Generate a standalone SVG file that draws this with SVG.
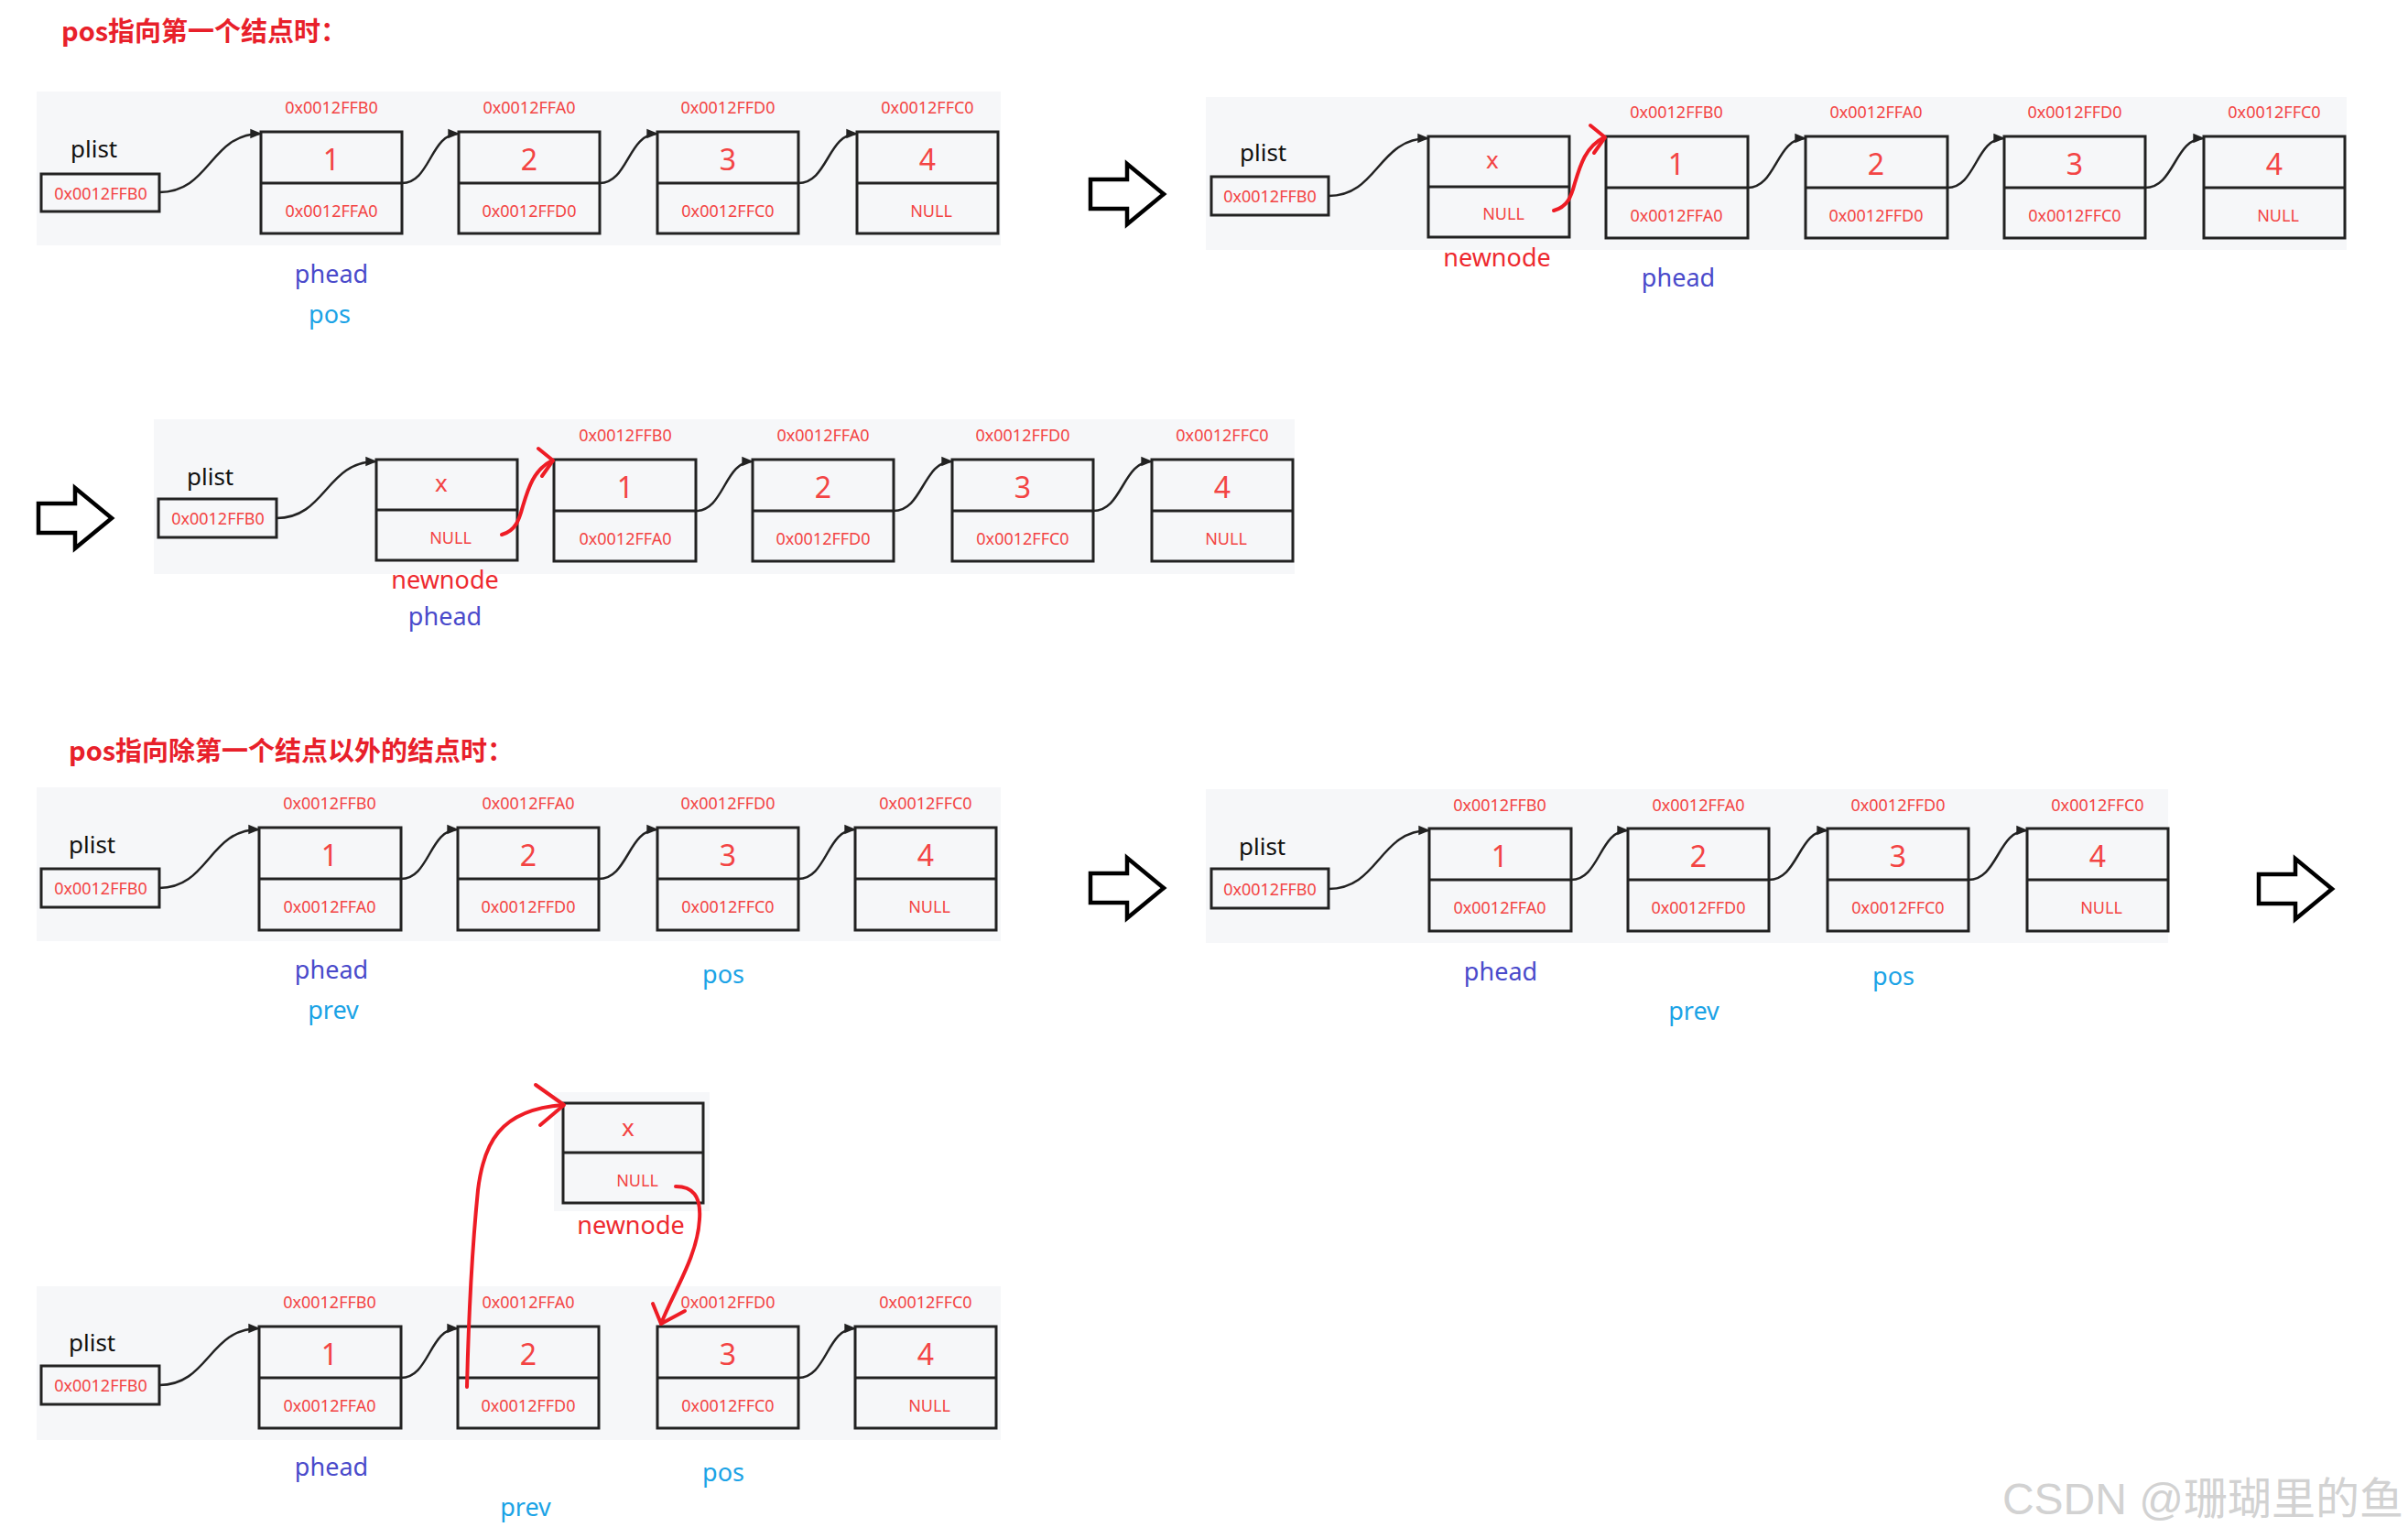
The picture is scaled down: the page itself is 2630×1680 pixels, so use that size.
<svg xmlns="http://www.w3.org/2000/svg" width="2630" height="1680" viewBox="0 0 2630 1680">
<defs>
<style>
.bg{fill:#f6f7f9}
.box{fill:none;stroke:#222;stroke-width:3}
.t{font-family:"Noto Sans","Noto Sans CJK SC",sans-serif;text-anchor:middle;dominant-baseline:central}
.addr{font-size:18px;fill:#f34444}
.val{font-size:32px;fill:#f34444}
.plist{font-size:26px;fill:#111;text-anchor:start}
.phead{font-size:27px;fill:#4a4acb}
.pos{font-size:27px;fill:#1ba3e6}
.nn{font-size:27px;fill:#ee2a2f}
.title{font-family:"Noto Sans CJK SC","Noto Sans",sans-serif;font-weight:bold;font-size:29px;fill:#e8202a}
.conn{fill:none;stroke:#222;stroke-width:2.5;marker-end:url(#ah)}
.red{fill:none;stroke:#ee1c25;stroke-width:4;stroke-linecap:round;stroke-linejoin:round}
.harrow{fill:#fff;stroke:#000;stroke-width:4.5;stroke-linejoin:miter}
.wm{font-family:"Liberation Sans","Noto Sans CJK SC",sans-serif;font-size:48px;fill:#d2d2d2;text-anchor:end}
</style>
<marker id="ah" viewBox="0 0 10 10" refX="9" refY="5" markerWidth="13" markerHeight="13" markerUnits="userSpaceOnUse" orient="auto"><path d="M0,1 L10,5 L0,9 z" fill="#222"/></marker>
<polygon id="bigarrow" class="harrow" points="0,17 40,17 40,0 80,33 40,66 40,49 0,49"/>
</defs>
<rect width="2630" height="1680" fill="#fff"/>

<!-- titles -->
<text id="title1" class="title" x="67" y="45">pos指向第一个结点时：</text>
<text id="title2" class="title" x="75" y="831">pos指向除第一个结点以外的结点时：</text>

<!-- backgrounds -->
<rect class="bg" x="40" y="100" width="1053" height="168"/>
<rect class="bg" x="1317" y="106" width="1246" height="167"/>
<rect class="bg" x="168" y="458" width="1246" height="169"/>
<rect class="bg" x="40" y="860" width="1053" height="168"/>
<rect class="bg" x="1317" y="862" width="1051" height="168"/>
<rect class="bg" x="605" y="1193" width="170" height="130"/>
<rect class="bg" x="40" y="1405" width="1053" height="168"/>

<!-- transition arrows -->
<g id="arrow1"><use href="#bigarrow" x="1191" y="179"/></g>
<g id="arrow2"><use href="#bigarrow" x="42" y="533"/></g>
<g id="arrow3"><use href="#bigarrow" x="1191" y="937"/></g>
<g id="arrow4"><use href="#bigarrow" x="2467" y="938"/></g>

<!-- ===== Panel A ===== -->
<g id="A-plist"><text class="t plist" x="77" y="162">plist</text><rect class="box" x="45" y="190" width="129" height="41"/><text class="t addr" x="110" y="211">0x0012FFB0</text></g>
<g id="A-n1"><text class="t addr" x="362" y="117">0x0012FFB0</text><rect class="box" x="285" y="144" width="154" height="111"/><line class="box" x1="285" y1="200" x2="439" y2="200"/><text class="t val" x="362" y="173">1</text><text class="t addr" x="362" y="230">0x0012FFA0</text></g>
<g id="A-n2"><text class="t addr" x="578" y="117">0x0012FFA0</text><rect class="box" x="501" y="144" width="154" height="111"/><line class="box" x1="501" y1="200" x2="655" y2="200"/><text class="t val" x="578" y="173">2</text><text class="t addr" x="578" y="230">0x0012FFD0</text></g>
<g id="A-n3"><text class="t addr" x="795" y="117">0x0012FFD0</text><rect class="box" x="718" y="144" width="154" height="111"/><line class="box" x1="718" y1="200" x2="872" y2="200"/><text class="t val" x="795" y="173">3</text><text class="t addr" x="795" y="230">0x0012FFC0</text></g>
<g id="A-n4"><text class="t addr" x="1013" y="117">0x0012FFC0</text><rect class="box" x="936" y="144" width="154" height="111"/><line class="box" x1="936" y1="200" x2="1090" y2="200"/><text class="t val" x="1013" y="173">4</text><text class="t addr" x="1017" y="230">NULL</text></g>
<g id="A-labels"><text class="t phead" x="362" y="298">phead</text><text class="t pos" x="360" y="342">pos</text></g>

<!-- ===== Panel B ===== -->
<g id="B-plist"><text class="t plist" x="1354" y="166">plist</text><rect class="box" x="1323" y="193" width="128" height="42"/><text class="t addr" x="1387" y="214">0x0012FFB0</text></g>
<g id="B-new"><rect class="box" x="1560" y="149" width="154" height="110"/><line class="box" x1="1560" y1="204" x2="1714" y2="204"/><text class="t val" style="font-size:26px" x="1630" y="174">x</text><text class="t addr" x="1642" y="233">NULL</text><text class="t nn" x="1635" y="280">newnode</text></g>
<g id="B-n1"><text class="t addr" x="1831" y="122">0x0012FFB0</text><rect class="box" x="1754" y="149" width="155" height="111"/><line class="box" x1="1754" y1="205" x2="1909" y2="205"/><text class="t val" x="1831" y="178">1</text><text class="t addr" x="1831" y="235">0x0012FFA0</text></g>
<g id="B-n2"><text class="t addr" x="2049" y="122">0x0012FFA0</text><rect class="box" x="1972" y="149" width="155" height="111"/><line class="box" x1="1972" y1="205" x2="2127" y2="205"/><text class="t val" x="2049" y="178">2</text><text class="t addr" x="2049" y="235">0x0012FFD0</text></g>
<g id="B-n3"><text class="t addr" x="2266" y="122">0x0012FFD0</text><rect class="box" x="2189" y="149" width="154" height="111"/><line class="box" x1="2189" y1="205" x2="2343" y2="205"/><text class="t val" x="2266" y="178">3</text><text class="t addr" x="2266" y="235">0x0012FFC0</text></g>
<g id="B-n4"><text class="t addr" x="2484" y="122">0x0012FFC0</text><rect class="box" x="2407" y="149" width="154" height="111"/><line class="box" x1="2407" y1="205" x2="2561" y2="205"/><text class="t val" x="2484" y="178">4</text><text class="t addr" x="2488" y="235">NULL</text></g>
<g id="B-labels"><text class="t phead" x="1833" y="302">phead</text></g>

<!-- ===== Panel C ===== -->
<g id="C-plist"><text class="t plist" x="204" y="520">plist</text><rect class="box" x="173" y="545" width="129" height="42"/><text class="t addr" x="238" y="566">0x0012FFB0</text></g>
<g id="C-new"><rect class="box" x="411" y="502" width="154" height="110"/><line class="box" x1="411" y1="557" x2="565" y2="557"/><text class="t val" style="font-size:26px" x="482" y="527">x</text><text class="t addr" x="492" y="587">NULL</text><text class="t nn" x="486" y="632">newnode</text><text class="t phead" x="486" y="672">phead</text></g>
<g id="C-n1"><text class="t addr" x="683" y="475">0x0012FFB0</text><rect class="box" x="605" y="502" width="155" height="111"/><line class="box" x1="605" y1="558" x2="760" y2="558"/><text class="t val" x="683" y="531">1</text><text class="t addr" x="683" y="588">0x0012FFA0</text></g>
<g id="C-n2"><text class="t addr" x="899" y="475">0x0012FFA0</text><rect class="box" x="822" y="502" width="154" height="111"/><line class="box" x1="822" y1="558" x2="976" y2="558"/><text class="t val" x="899" y="531">2</text><text class="t addr" x="899" y="588">0x0012FFD0</text></g>
<g id="C-n3"><text class="t addr" x="1117" y="475">0x0012FFD0</text><rect class="box" x="1040" y="502" width="154" height="111"/><line class="box" x1="1040" y1="558" x2="1194" y2="558"/><text class="t val" x="1117" y="531">3</text><text class="t addr" x="1117" y="588">0x0012FFC0</text></g>
<g id="C-n4"><text class="t addr" x="1335" y="475">0x0012FFC0</text><rect class="box" x="1258" y="502" width="154" height="111"/><line class="box" x1="1258" y1="558" x2="1412" y2="558"/><text class="t val" x="1335" y="531">4</text><text class="t addr" x="1339" y="588">NULL</text></g>

<!-- ===== Panel D ===== -->
<g id="D-plist"><text class="t plist" x="75" y="922">plist</text><rect class="box" x="45" y="949" width="129" height="42"/><text class="t addr" x="110" y="970">0x0012FFB0</text></g>
<g id="D-n1"><text class="t addr" x="360" y="877">0x0012FFB0</text><rect class="box" x="283" y="904" width="155" height="112"/><line class="box" x1="283" y1="960" x2="438" y2="960"/><text class="t val" x="360" y="933">1</text><text class="t addr" x="360" y="990">0x0012FFA0</text></g>
<g id="D-n2"><text class="t addr" x="577" y="877">0x0012FFA0</text><rect class="box" x="500" y="904" width="154" height="112"/><line class="box" x1="500" y1="960" x2="654" y2="960"/><text class="t val" x="577" y="933">2</text><text class="t addr" x="577" y="990">0x0012FFD0</text></g>
<g id="D-n3"><text class="t addr" x="795" y="877">0x0012FFD0</text><rect class="box" x="718" y="904" width="154" height="112"/><line class="box" x1="718" y1="960" x2="872" y2="960"/><text class="t val" x="795" y="933">3</text><text class="t addr" x="795" y="990">0x0012FFC0</text></g>
<g id="D-n4"><text class="t addr" x="1011" y="877">0x0012FFC0</text><rect class="box" x="934" y="904" width="154" height="112"/><line class="box" x1="934" y1="960" x2="1088" y2="960"/><text class="t val" x="1011" y="933">4</text><text class="t addr" x="1015" y="990">NULL</text></g>
<g id="D-labels"><text class="t phead" x="362" y="1058">phead</text><text class="t pos" x="364" y="1102">prev</text><text class="t pos" x="790" y="1063">pos</text></g>

<!-- ===== Panel E ===== -->
<g id="E-plist"><text class="t plist" x="1353" y="924">plist</text><rect class="box" x="1323" y="949" width="128" height="43"/><text class="t addr" x="1387" y="971">0x0012FFB0</text></g>
<g id="E-n1"><text class="t addr" x="1638" y="879">0x0012FFB0</text><rect class="box" x="1561" y="905" width="155" height="112"/><line class="box" x1="1561" y1="961" x2="1716" y2="961"/><text class="t val" x="1638" y="934">1</text><text class="t addr" x="1638" y="991">0x0012FFA0</text></g>
<g id="E-n2"><text class="t addr" x="1855" y="879">0x0012FFA0</text><rect class="box" x="1778" y="905" width="154" height="112"/><line class="box" x1="1778" y1="961" x2="1932" y2="961"/><text class="t val" x="1855" y="934">2</text><text class="t addr" x="1855" y="991">0x0012FFD0</text></g>
<g id="E-n3"><text class="t addr" x="2073" y="879">0x0012FFD0</text><rect class="box" x="1996" y="905" width="154" height="112"/><line class="box" x1="1996" y1="961" x2="2150" y2="961"/><text class="t val" x="2073" y="934">3</text><text class="t addr" x="2073" y="991">0x0012FFC0</text></g>
<g id="E-n4"><text class="t addr" x="2291" y="879">0x0012FFC0</text><rect class="box" x="2214" y="905" width="154" height="112"/><line class="box" x1="2214" y1="961" x2="2368" y2="961"/><text class="t val" x="2291" y="934">4</text><text class="t addr" x="2295" y="991">NULL</text></g>
<g id="E-labels"><text class="t phead" x="1639" y="1060">phead</text><text class="t pos" x="1850" y="1103">prev</text><text class="t pos" x="2068" y="1065">pos</text></g>

<!-- ===== Panel F ===== -->
<g id="F-new"><rect class="box" x="615" y="1205" width="153" height="109"/><line class="box" x1="615" y1="1259" x2="768" y2="1259"/><text class="t val" style="font-size:26px" x="686" y="1231">x</text><text class="t addr" x="696" y="1289">NULL</text><text class="t nn" x="689" y="1337">newnode</text></g>
<g id="F-plist"><text class="t plist" x="75" y="1466">plist</text><rect class="box" x="45" y="1492" width="129" height="42"/><text class="t addr" x="110" y="1513">0x0012FFB0</text></g>
<g id="F-n1"><text class="t addr" x="360" y="1422">0x0012FFB0</text><rect class="box" x="283" y="1449" width="155" height="111"/><line class="box" x1="283" y1="1505" x2="438" y2="1505"/><text class="t val" x="360" y="1478">1</text><text class="t addr" x="360" y="1535">0x0012FFA0</text></g>
<g id="F-n2"><text class="t addr" x="577" y="1422">0x0012FFA0</text><rect class="box" x="500" y="1449" width="154" height="111"/><line class="box" x1="500" y1="1505" x2="654" y2="1505"/><text class="t val" x="577" y="1478">2</text><text class="t addr" x="577" y="1535">0x0012FFD0</text></g>
<g id="F-n3"><text class="t addr" x="795" y="1422">0x0012FFD0</text><rect class="box" x="718" y="1449" width="154" height="111"/><line class="box" x1="718" y1="1505" x2="872" y2="1505"/><text class="t val" x="795" y="1478">3</text><text class="t addr" x="795" y="1535">0x0012FFC0</text></g>
<g id="F-n4"><text class="t addr" x="1011" y="1422">0x0012FFC0</text><rect class="box" x="934" y="1449" width="154" height="111"/><line class="box" x1="934" y1="1505" x2="1088" y2="1505"/><text class="t val" x="1011" y="1478">4</text><text class="t addr" x="1015" y="1535">NULL</text></g>
<g id="F-labels"><text class="t phead" x="362" y="1601">phead</text><text class="t pos" x="574" y="1645">prev</text><text class="t pos" x="790" y="1607">pos</text></g>

<!-- ===== connectors ===== -->
<g id="connectors">
<path class="conn" d="M174,210 C230,210 229,146 285,146"/>
<path class="conn" d="M439,200 C470,200 470,146 501,146"/>
<path class="conn" d="M655,200 C686,200 686,146 718,146"/>
<path class="conn" d="M872,200 C904,200 904,146 936,146"/>

<path class="conn" d="M1451,214 C1505,214 1505,151 1560,151"/>
<path class="conn" d="M1909,205 C1940,205 1940,151 1972,151"/>
<path class="conn" d="M2127,205 C2158,205 2158,151 2189,151"/>
<path class="conn" d="M2343,205 C2375,205 2375,151 2407,151"/>
<path class="red" d="M1697,230 C1712,226 1716,215 1720,200 C1726,180 1732,160 1752,150"/>
<polyline class="red" points="1737,137 1753,150 1741,167"/>

<path class="conn" d="M302,566 C356,566 356,504 411,504"/>
<path class="conn" d="M760,558 C791,558 791,504 822,504"/>
<path class="conn" d="M976,558 C1008,558 1008,504 1040,504"/>
<path class="conn" d="M1194,558 C1226,558 1226,504 1258,504"/>
<path class="red" d="M548,584 C563,580 567,568 571,553 C577,533 583,513 603,503"/>
<polyline class="red" points="588,490 604,503 592,520"/>

<path class="conn" d="M174,970 C228,970 228,906 283,906"/>
<path class="conn" d="M438,960 C469,960 469,906 500,906"/>
<path class="conn" d="M654,960 C686,960 686,906 718,906"/>
<path class="conn" d="M872,960 C903,960 903,906 934,906"/>

<path class="conn" d="M1451,971 C1506,971 1506,907 1561,907"/>
<path class="conn" d="M1716,961 C1747,961 1747,907 1778,907"/>
<path class="conn" d="M1932,961 C1964,961 1964,907 1996,907"/>
<path class="conn" d="M2150,961 C2182,961 2182,907 2214,907"/>

<path class="conn" d="M174,1513 C228,1513 228,1451 283,1451"/>
<path class="conn" d="M438,1505 C469,1505 469,1451 500,1451"/>
<path class="conn" d="M872,1505 C903,1505 903,1451 934,1451"/>
<path class="red" d="M510,1515 C512,1430 516,1360 522,1300 C528,1250 545,1212 615,1207"/>
<polyline class="red" points="585,1185 616,1207 590,1229"/>
<path class="red" d="M738,1296 C756,1296 766,1306 764,1332 C762,1372 735,1412 722,1446"/>
<polyline class="red" points="713,1424 722,1446 748,1432"/>
</g>

<text id="watermark" class="wm" x="2625" y="1654">CSDN @珊瑚里的鱼</text>
</svg>
